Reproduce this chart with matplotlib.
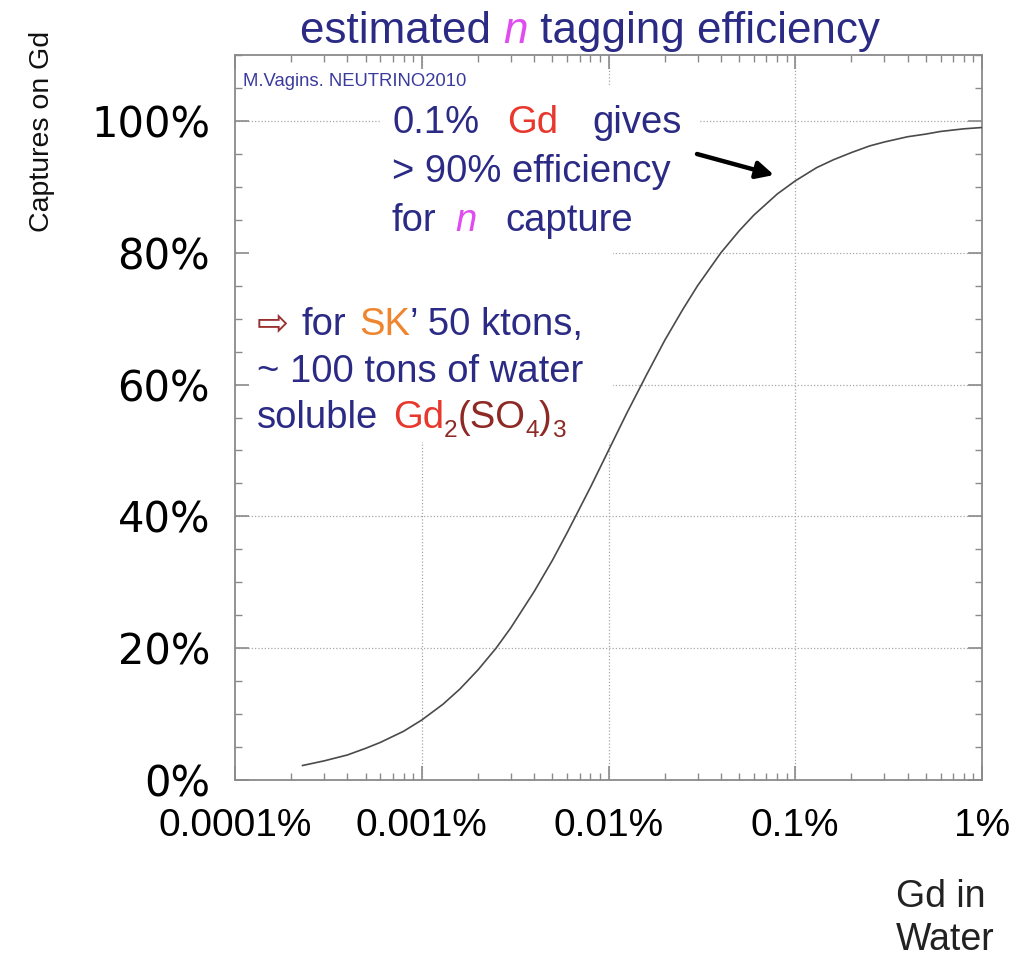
import matplotlib
matplotlib.use("Agg")
import matplotlib.pyplot as plt
from matplotlib.patches import Rectangle
from matplotlib.ticker import LogLocator, MultipleLocator, NullFormatter

# Gd concentration in water (%) and fraction of neutron captures on Gd (%)
gd_percent = [0.00023, 0.0003, 0.0004, 0.0005, 0.0006, 0.0008, 0.001, 0.0013,
              0.0016, 0.002, 0.0025, 0.003, 0.004, 0.005, 0.006, 0.008, 0.01,
              0.0125, 0.016, 0.02, 0.025, 0.03, 0.04, 0.05, 0.06, 0.08, 0.1,
              0.13, 0.16, 0.2, 0.25, 0.3, 0.4, 0.5, 0.6, 0.8, 1.0]
capture_percent = [2.2, 2.9, 3.8, 4.8, 5.7, 7.4, 9.1, 11.5,
                   13.8, 16.7, 20.0, 23.1, 28.6, 33.3, 37.5, 44.4, 50.0,
                   55.6, 61.5, 66.7, 71.4, 75.0, 80.0, 83.3, 85.7, 88.9, 90.9,
                   92.9, 94.1, 95.2, 96.2, 96.8, 97.6, 98.0, 98.4, 98.8, 99.0]

x_ticks = [1e-4, 1e-3, 1e-2, 1e-1, 1.0]
x_tick_labels = ["0.0001%", "0.001%", "0.01%", "0.1%", "1%"]
y_ticks = [0, 20, 40, 60, 80, 100]
y_tick_labels = ["0%", "20%", "40%", "60%", "80%", "100%"]

SANS = ["Liberation Sans", "DejaVu Sans"]
NAVY = "#2b2b85"
RED = "#e8372c"
DARKRED = "#8e2a25"
ORANGE = "#f0852f"
MAGENTA = "#e04cf0"

W, H, DPI = 1034, 958, 100
fig = plt.figure(figsize=(W / DPI, H / DPI), dpi=DPI)
fig.patch.set_facecolor("white")

# axes frame in pixel coordinates
L, R, T, B = 235, 982, 55, 780
ax = fig.add_axes([L / W, 1 - B / H, (R - L) / W, (B - T) / H])
ax.set_xscale("log")
ax.set_xlim(1e-4, 1.0)
ax.set_ylim(0, 110)

# dotted grid at the major ticks
grid_kw = dict(color="#a8a8a8", lw=0.9, ls=(0, (1, 1.6)), zorder=0.8)
for xv in x_ticks[1:-1]:
    ax.axvline(xv, **grid_kw)
for yv in y_ticks[1:]:
    ax.axhline(yv, **grid_kw)


def fig_rect(x0, y0, x1, y1):
    """White panel behind the annotations, given in figure pixels (top-left origin)."""
    return Rectangle((x0 / W, 1 - y1 / H), (x1 - x0) / W, (y1 - y0) / H,
                     transform=fig.transFigure, fc="white", ec="none", zorder=1)


for r in [fig_rect(380, 85, 700, 240), fig_rect(237, 150, 613, 442),
          fig_rect(240, 66, 472, 90)]:
    ax.add_patch(r)

ax.plot(gd_percent, capture_percent, color="#4a4a4a", lw=1.2, zorder=3)

ax.set_xticks(x_ticks)
ax.set_xticklabels(x_tick_labels)
ax.xaxis.set_minor_locator(LogLocator(base=10, subs=range(2, 10)))
ax.xaxis.set_minor_formatter(NullFormatter())
ax.set_yticks(y_ticks)
ax.set_yticklabels(y_tick_labels)
ax.yaxis.set_minor_locator(MultipleLocator(5))

ax.tick_params(which="both", direction="in", top=True, right=True, color="#8a8a8a")
ax.tick_params(which="major", length=10, width=1.2)
ax.tick_params(which="minor", length=5, width=1.0)
ax.tick_params(axis="x", which="major", pad=20, labelsize=28)
ax.tick_params(axis="y", which="major", pad=18, labelsize=30)
for lab in ax.get_xticklabels():
    lab.set_fontfamily(SANS)
for lab in ax.get_yticklabels():
    lab.set_fontfamily(["DejaVu Sans"])
for sp in ax.spines.values():
    sp.set_color("#8a8a8a")
    sp.set_linewidth(1.3)

renderer = fig.canvas.get_renderer()


def advance(s, fp):
    w1, _, _ = renderer.get_text_width_height_descent(s + "|", fp, ismath=False)
    w2, _, _ = renderer.get_text_width_height_descent("|", fp, ismath=False)
    return w1 - w2


def rich_line(x, y, pieces, size):
    """Draw coloured text runs on one baseline; x, y in pixels from the top-left."""
    for p in pieces:
        text = p[0]
        opts = p[1] if len(p) > 1 else {}
        if "x" in opts:
            x = opts["x"]
        fs = size * opts.get("scale", 1.0)
        dy = opts.get("dy", 0)
        t = fig.text(x / W, 1 - (y + dy) / H, text, fontsize=fs,
                     color=opts.get("color", NAVY),
                     fontstyle=opts.get("style", "normal"),
                     family=SANS, ha="left", va="baseline", zorder=5)
        x += advance(text, t.get_fontproperties())


# title
rich_line(300, 43, [("estimated ",), ("n", {"color": MAGENTA, "style": "italic"}),
                    (" tagging efficiency",)], 31.7)

# source tag
fig.text(243 / W, 1 - 86 / H, "M.Vagins. NEUTRINO2010", fontsize=13.3,
         color="#3b3b9e", family=SANS, ha="left", va="baseline", zorder=5)

# upper annotation
TS = 27.5
rich_line(392, 133, [("0.1%",), ("Gd", {"x": 507, "color": RED}),
                     ("gives", {"x": 592})], TS)
rich_line(392, 182, [("> 90% efficiency",)], TS)
rich_line(392, 231, [("for",), ("n", {"x": 455, "color": MAGENTA, "style": "italic"}),
                     ("capture", {"x": 505})], TS)

ax.annotate("", xy=(774, H - 175), xytext=(697, H - 154),
            xycoords="figure pixels", textcoords="figure pixels",
            arrowprops=dict(arrowstyle="-|>", color="black", lw=3.2,
                            mutation_scale=26, shrinkA=0, shrinkB=0),
            zorder=6)

# left annotation
rich_line(257, 335, [("\u21e8", {"color": "#9a2f2f"}), ("for", {"x": 302}),
                     ("SK", {"x": 359, "color": ORANGE}), ("\u2019 50 ktons,",)], TS)
rich_line(257, 382, [("~ 100 tons of water",)], TS)
sub = {"color": DARKRED, "scale": 0.64, "dy": 9}
rich_line(257, 428, [("soluble",), ("Gd", {"x": 393, "color": RED}),
                     ("2", sub), ("(SO", {"color": DARKRED}), ("4", sub),
                     (")", {"color": DARKRED}), ("3", sub)], TS)

# axis titles
fig.text(42 / W, 1 - 131 / H, "Captures on Gd", rotation=90, fontsize=20.5,
         family=SANS, color="#111111", ha="center", va="center")
fig.text(896 / W, 1 - 907 / H, "Gd in", fontsize=27, family=SANS,
         color="#222222", ha="left", va="baseline")
fig.text(896 / W, 1 - 950 / H, "Water", fontsize=27, family=SANS,
         color="#222222", ha="left", va="baseline")

fig.savefig("out.png", dpi=DPI, facecolor="white")
